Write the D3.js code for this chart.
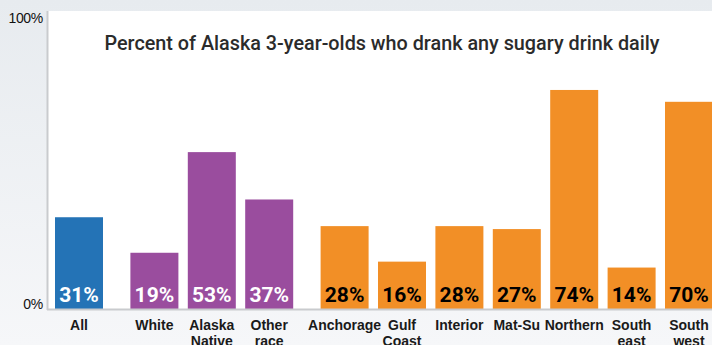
<!DOCTYPE html>
<html><head><meta charset="utf-8">
<script src="https://cdn.jsdelivr.net/npm/d3@7"></script>
<style>html,body{margin:0;padding:0;overflow:hidden;}svg{display:block;}</style>
</head><body>
<svg id="chart" width="712" height="345"></svg>
<script>
const title = "Percent of Alaska 3-year-olds who drank any sugary drink daily";
const categories = ["All","White","Alaska Native","Other race","Anchorage","Gulf Coast","Interior","Mat-Su","Northern","South east","South west"];
const labelLines = [["All"],["White"],["Alaska","Native"],["Other","race"],["Anchorage"],["Gulf","Coast"],["Interior"],["Mat-Su"],["Northern"],["South","east"],["South","west"]];
const values = [31,19,53,37,28,16,28,27,74,14,70];
const groups = [0,1,1,1,2,2,2,2,2,2,2];
const groupColors = ["#2473b6","#9a4d9e","#f28f26"];
const valueTextColors = ["#ffffff","#ffffff","#000000"];
const yTicks = [0,100];

const W = 712, H = 345;
const svg = d3.select("#chart");
const defs = svg.append("defs");
const grad = defs.append("linearGradient").attr("id","bg").attr("x1",0).attr("y1",0).attr("x2",0).attr("y2",1);
grad.append("stop").attr("offset","0%").attr("stop-color","#e7ebef");
grad.append("stop").attr("offset","100%").attr("stop-color","#f6f7f9");
svg.append("rect").attr("width",W).attr("height",H).attr("fill","url(#bg)");

const plotLeft = 48, plotTop = 11, baseY = 309;
svg.append("rect").attr("x",plotLeft).attr("y",plotTop).attr("width",W-plotLeft).attr("height",baseY-plotTop).attr("fill","#ffffff");

const y = d3.scaleLinear().domain([0,100]).range([baseY,13]);
const step = 57.4, bw = 48, groupGap = 18;
const x = d3.scaleBand().domain(categories)
  .range([55-(step-bw)/2, 55-(step-bw)/2 + step*categories.length])
  .paddingInner((step-bw)/step).paddingOuter((step-bw)/step/2);
const xPos = (d,i) => x(d) + groups[i]*groupGap;

// axes lines
svg.append("line").attr("x1",plotLeft-0.5).attr("x2",plotLeft-0.5).attr("y1",plotTop).attr("y2",baseY+1)
  .attr("stroke","#c9cbce").attr("stroke-width",2);

// bars
svg.selectAll("rect.bar").data(categories).enter().append("rect").attr("class","bar")
  .attr("x",(d,i)=>xPos(d,i)).attr("width",x.bandwidth())
  .attr("y",(d,i)=>y(values[i])).attr("height",(d,i)=>y(0)-y(values[i]))
  .attr("fill",(d,i)=>groupColors[groups[i]]);

svg.append("line").attr("x1",plotLeft-1).attr("x2",W).attr("y1",baseY+0.5).attr("y2",baseY+0.5)
  .attr("stroke","#c9cbce").attr("stroke-width",2);

// value labels
svg.selectAll("text.val").data(categories).enter().append("text").attr("class","val")
  .attr("x",(d,i)=>xPos(d,i)+x.bandwidth()/2).attr("y",baseY-7)
  .attr("text-anchor","middle").attr("font-family","Roboto, 'Liberation Sans', Arial, sans-serif")
  .attr("font-weight","bold").attr("font-size",21)
  .attr("fill",(d,i)=>valueTextColors[groups[i]])
  .text((d,i)=>values[i]+"%");

// category labels
const cat = svg.selectAll("text.cat").data(categories).enter().append("text").attr("class","cat")
  .attr("x",(d,i)=>xPos(d,i)+x.bandwidth()/2).attr("y",330)
  .attr("text-anchor","middle").attr("font-family","'Liberation Sans', Arial, sans-serif")
  .attr("font-weight","bold").attr("font-size",14).attr("fill","#1a1a1a");
cat.each(function(d,i){
  const t = d3.select(this);
  labelLines[i].forEach((ln,j)=>{
    t.append("tspan").attr("x",xPos(d,i)+x.bandwidth()/2).attr("dy",j===0?0:15.5).text(ln);
  });
});

// y tick labels
svg.selectAll("text.ytick").data(yTicks).enter().append("text").attr("class","ytick")
  .attr("x",43).attr("y",d=>d===100?y(d)+10:y(d))
  .attr("text-anchor","end").attr("font-family","'Liberation Sans', Arial, sans-serif")
  .attr("font-size",14).attr("fill","#111").attr("letter-spacing",-0.3)
  .text(d=>d+"%");

// title
svg.append("text").attr("x",382).attr("y",50).attr("text-anchor","middle")
  .attr("font-family","Roboto, 'Liberation Sans', Arial, sans-serif").attr("font-weight",500)
  .attr("font-size",19.8).attr("fill","#2b2b2b").text(title);
</script>
</body></html>
